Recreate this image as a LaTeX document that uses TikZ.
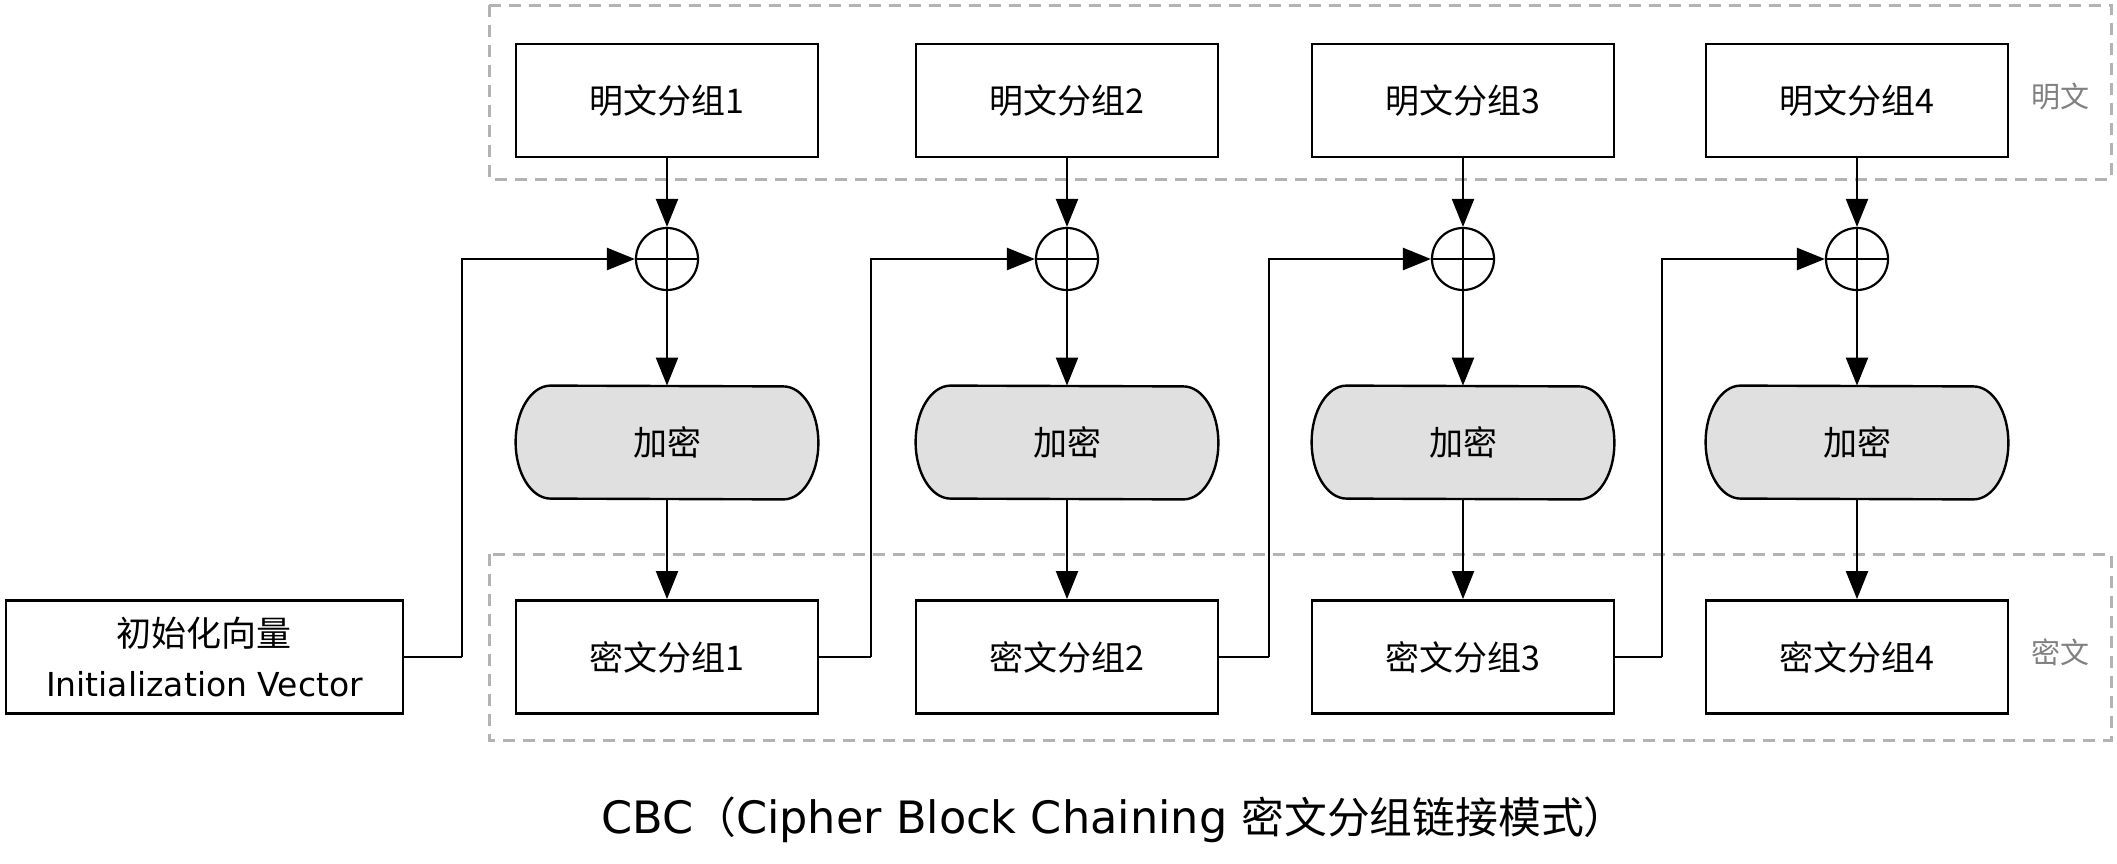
\documentclass[tikz,border=0pt]{standalone}
\usepackage{fontspec}
\setmainfont{DejaVu Sans}
\newfontfamily\cjk{Noto Sans CJK SC}
\usetikzlibrary{arrows.meta}
\pgfdeclarelayer{bg}
\pgfsetlayers{bg,main}
\definecolor{dashgray}{RGB}{179,179,179}
\definecolor{lblgray}{RGB}{128,128,128}
\definecolor{encfill}{RGB}{224,224,224}
\newcommand\encpath[1]{%
  \draw[encline] ([xshift=17.5pt]#1.north west)
    arc[start angle=90,end angle=270,x radius=17.5pt,y radius=28.25pt]
    -- ([xshift=-17.5pt]#1.south east)
    arc[start angle=-90,end angle=90,x radius=17.5pt,y radius=28.25pt]
    -- cycle;}
\begin{document}
\begin{tikzpicture}[x=0.5pt,y=-0.5pt,
  blk/.style={draw,line width=1.4pt,minimum width=151pt,minimum height=56.5pt,inner sep=0pt,
    font=\cjk\fontsize{17pt}{20pt}\selectfont},
  encnode/.style={minimum width=151pt,minimum height=56.5pt,inner sep=0pt,
    font=\cjk\fontsize{17pt}{20pt}\selectfont},
  encline/.style={draw,fill=encfill,line width=1.2pt},
  xor/.style={circle,draw,line width=1.1pt,minimum size=31pt,inner sep=0pt,
    path picture={\draw[line width=1.1pt] (path picture bounding box.north) -- (path picture bounding box.south)
      (path picture bounding box.west) -- (path picture bounding box.east);}},
  arr/.style={-{Triangle[length=14pt,width=11pt]},line width=1.1pt},
  chain/.style={line width=1.3pt},
  grp/.style={draw=dashgray,line width=1.5pt,dash pattern=on 6pt off 4pt},
  lbl/.style={text=lblgray,font=\cjk\fontsize{14.5pt}{17pt}\selectfont}
]
\useasboundingbox (0,0) rectangle (2117,863);

% group frames
\draw[grp] (489,5) rectangle (2111,179);
\draw[grp] (489,554) rectangle (2111,740);
\node[lbl] (lp) at (2060,96) {明文};
\node[lbl] (lc) at (2060,652) {密文};

% plaintext blocks
\node[blk] (p1) at (667,100.5) {明文分组1};
\node[blk] (p2) at (1067,100.5) {明文分组2};
\node[blk] (p3) at (1463,100.5) {明文分组3};
\node[blk] (p4) at (1857,100.5) {明文分组4};

% xor
\node[xor] (x1) at (667,259) {};
\node[xor] (x2) at (1067,259) {};
\node[xor] (x3) at (1463,259) {};
\node[xor] (x4) at (1857,259) {};

% encryption
\node[encnode] (e1) at (667,442.5) {加密};
\node[encnode] (e2) at (1067,442.5) {加密};
\node[encnode] (e3) at (1463,442.5) {加密};
\node[encnode] (e4) at (1857,442.5) {加密};
\begin{pgfonlayer}{bg}
\encpath{e1}\encpath{e2}\encpath{e3}\encpath{e4}
\end{pgfonlayer}

% ciphertext blocks
\node[blk] (c1) at (667,657) {密文分组1};
\node[blk] (c2) at (1067,657) {密文分组2};
\node[blk] (c3) at (1463,657) {密文分组3};
\node[blk] (c4) at (1857,657) {密文分组4};

% IV
\node[blk,minimum width=198.5pt,align=center,font=\fontsize{16.5pt}{25pt}\selectfont] (iv) at (204.5,657)
  {{\cjk\fontsize{17.5pt}{25pt}\selectfont 初始化向量}\\Initialization Vector};

% vertical flow
\foreach \i in {1,2,3,4}{
  \draw[arr] (p\i.south) -- (x\i.north);
  \draw[arr] (x\i.south) -- (e\i.north);
  \draw[arr] (e\i.south) -- (c\i.north);
}

% chaining
\coordinate (k1) at (462,657);
\coordinate (k2) at (871,657);
\coordinate (k3) at (1269,657);
\coordinate (k4) at (1662,657);
\draw[chain] (iv.east) -- (k1);
\draw[arr,line width=1.3pt] (k1) |- (x1.west);
\draw[chain] (c1.east) -- (k2);
\draw[arr,line width=1.3pt] (k2) |- (x2.west);
\draw[chain] (c2.east) -- (k3);
\draw[arr,line width=1.3pt] (k3) |- (x3.west);
\draw[chain] (c3.east) -- (k4);
\draw[arr,line width=1.3pt] (k4) |- (x4.west);

% caption
\node[font=\fontsize{22.3pt}{26pt}\selectfont] (cap) at (1114,820)
  {CBC{\cjk\fontsize{21.4pt}{26pt}\selectfont（}Cipher Block Chaining {\cjk\fontsize{21.4pt}{26pt}\selectfont 密文分组链接模式）}};
\end{tikzpicture}
\end{document}
